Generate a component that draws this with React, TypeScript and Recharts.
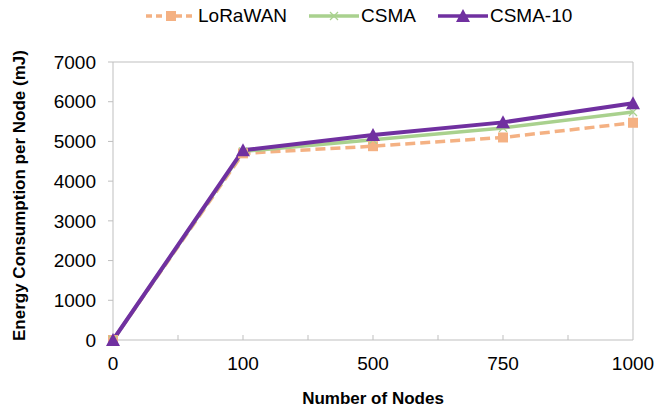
import React from 'react';
import { LineChart, Line, XAxis, YAxis, ReferenceLine } from 'recharts';

const categories = ['0', '100', '500', '750', '1000'];
const lorawan = [0, 4700, 4880, 5100, 5470];
const csma = [0, 4750, 5040, 5340, 5740];
const csma10 = [0, 4780, 5160, 5480, 5960];
const yTicks = [0, 1000, 2000, 3000, 4000, 5000, 6000, 7000];
const xTicks = [0, 0.5, 1, 1.5, 2, 2.5, 3, 3.5, 4];

const FONT = '"Liberation Sans", Arial, sans-serif';
const AXIS = '#BFBFBF';
const ORANGE = '#F4B183';
const GREEN = '#A9D18E';
const PURPLE = '#7030A0';

const data = categories.map((name, i) => ({
  x: i,
  name,
  lorawan: lorawan[i],
  csma: csma[i],
  csma10: csma10[i],
}));

const SquareDot = (props: any) => {
  const { cx, cy } = props;
  if (cx == null || cy == null) return null;
  return <rect x={cx - 5} y={cy - 5} width={10} height={10} fill={ORANGE} />;
};

const CrossDot = (props: any) => {
  const { cx, cy } = props;
  if (cx == null || cy == null) return null;
  return (
    <g stroke={GREEN} strokeWidth={1.2}>
      <line x1={cx - 4} y1={cy - 4} x2={cx + 4} y2={cy + 4} />
      <line x1={cx - 4} y1={cy + 4} x2={cx + 4} y2={cy - 4} />
    </g>
  );
};

const TriangleDot = (props: any) => {
  const { cx, cy } = props;
  if (cx == null || cy == null) return null;
  return <polygon points={`${cx},${cy - 7} ${cx + 7},${cy + 6} ${cx - 7},${cy + 6}`} fill={PURPLE} />;
};

const XTick = (props: any) => {
  const { x, y, payload } = props;
  const v = payload.value;
  const isCat = Number.isInteger(v);
  return (
    <g>
      {v > 0 && v < 4 && <line x1={x} y1={y} x2={x} y2={y - 5} stroke={AXIS} strokeWidth={1} />}
      {isCat && (
        <text x={x} y={y + 30} textAnchor="middle" fill="#000" fontSize={19} fontFamily={FONT}>
          {categories[v]}
        </text>
      )}
    </g>
  );
};

const legendItems = [
  { name: 'LoRaWAN', color: ORANGE, dash: '6 4', marker: 'square' },
  { name: 'CSMA', color: GREEN, dash: undefined, marker: 'cross' },
  { name: 'CSMA-10', color: PURPLE, dash: undefined, marker: 'triangle' },
];

const LegendMarker = ({ item }: { item: typeof legendItems[number] }) => (
  <svg width={50} height={20} style={{ display: 'block' }}>
    <line x1={0} y1={10} x2={50} y2={10} stroke={item.color} strokeWidth={3.5} strokeDasharray={item.dash} />
    {item.marker === 'square' && <SquareDot cx={25} cy={10} />}
    {item.marker === 'cross' && <CrossDot cx={25} cy={10} />}
    {item.marker === 'triangle' && <TriangleDot cx={25} cy={10} />}
  </svg>
);

export default function App() {
  return (
    <div style={{ position: 'absolute', left: 0, top: 0, width: 670, height: 416, background: '#fff' }}>
      <div
        style={{
          position: 'absolute',
          left: 146,
          top: 5,
          display: 'flex',
          alignItems: 'center',
          fontFamily: FONT,
          fontSize: 19,
          color: '#000',
        }}
      >
        {legendItems.map((item) => (
          <div key={item.name} style={{ display: 'flex', alignItems: 'center', marginRight: 22 }}>
            <LegendMarker item={item} />
            <span style={{ marginLeft: 2 }}>{item.name}</span>
          </div>
        ))}
      </div>
      <LineChart width={670} height={416} data={data} margin={{ top: 62, right: 37, bottom: 46, left: 0 }}>
        <XAxis
          dataKey="x"
          type="number"
          domain={[0, 4]}
          ticks={xTicks}
          interval={0}
          height={30}
          stroke={AXIS}
          tickLine={false}
          tickSize={0}
          tickMargin={0}
          tick={<XTick />}
          label={{
            value: 'Number of Nodes',
            position: 'bottom',
            offset: 22,
            style: { fontFamily: FONT, fontSize: 17, fontWeight: 'bold', fill: '#000' },
          }}
        />
        <YAxis
          domain={[0, 7000]}
          ticks={yTicks}
          width={113}
          stroke={AXIS}
          tickSize={5}
          tickMargin={12}
          tick={{ fill: '#000', fontSize: 19, fontFamily: FONT }}
          label={{
            value: 'Energy Consumption per Node (mJ)',
            angle: -90,
            position: 'insideLeft',
            offset: 19,
            dy: 140,
            style: { fontFamily: FONT, fontSize: 17, fontWeight: 'bold', fill: '#000' },
          }}
        />
        <ReferenceLine y={7000} stroke={AXIS} />
        <ReferenceLine x={4} stroke={AXIS} />
        <Line
          dataKey="lorawan"
          stroke={ORANGE}
          strokeWidth={3.5}
          strokeDasharray="10 5"
          dot={<SquareDot />}
          activeDot={false}
          isAnimationActive={false}
        />
        <Line
          dataKey="csma"
          stroke={GREEN}
          strokeWidth={3.5}
          dot={<CrossDot />}
          activeDot={false}
          isAnimationActive={false}
        />
        <Line
          dataKey="csma10"
          stroke={PURPLE}
          strokeWidth={4}
          dot={<TriangleDot />}
          activeDot={false}
          isAnimationActive={false}
        />
      </LineChart>
    </div>
  );
}
